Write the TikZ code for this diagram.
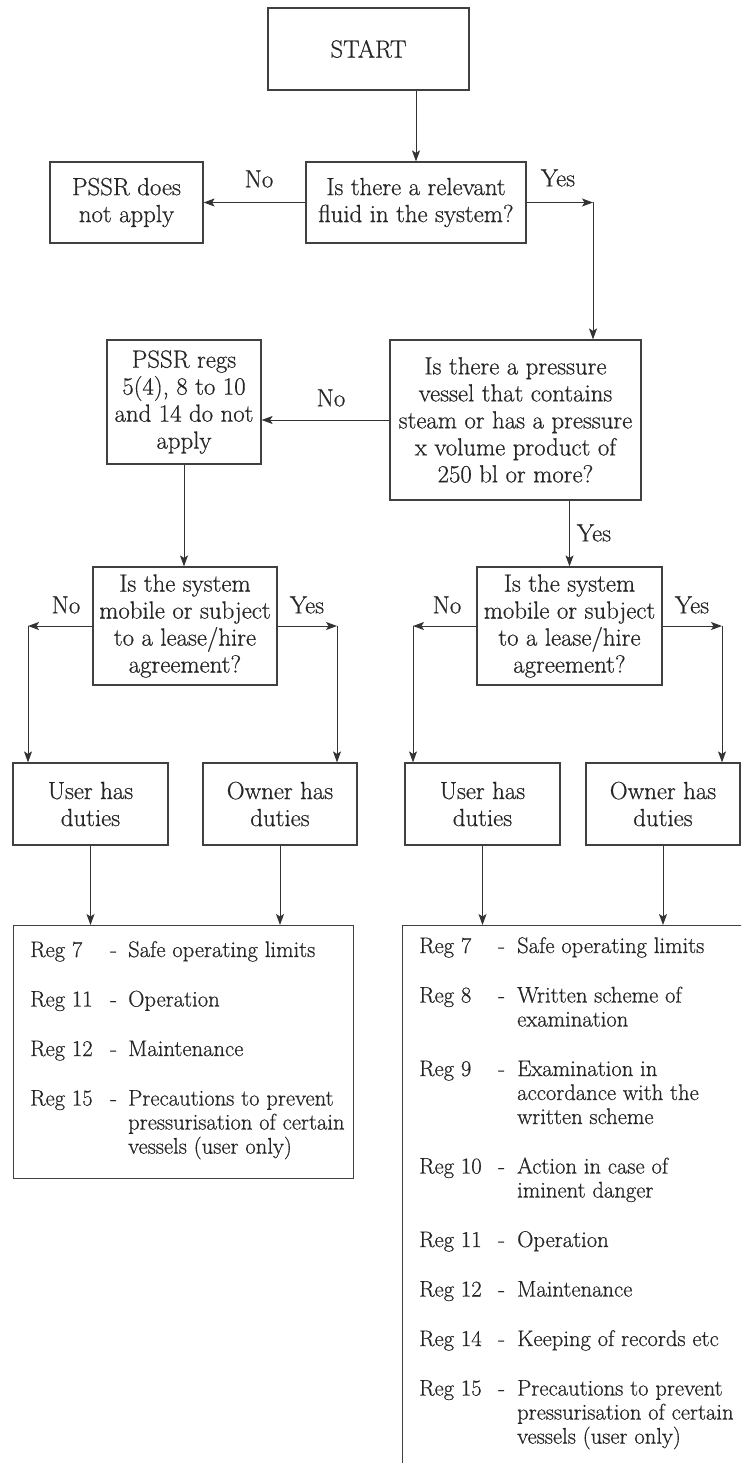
\documentclass[tikz,border=0pt]{standalone}
\usepackage{fontspec}
\setmainfont{Latin Modern Roman}[FakeBold=0.6]
\usetikzlibrary{arrows.meta}
\begin{document}
\begin{tikzpicture}[x=1pt,y=-1pt,
  qbox/.style={draw=black!75,line width=1.2pt,align=center,inner sep=2pt,
    font=\fontsize{24.8}{27}\selectfont,text=black!85},
  regbox/.style={draw=black!75,line width=1.2pt,anchor=north west,inner sep=0pt},
  arr/.style={draw=black!80,line width=1pt,-{Stealth[length=11pt,width=8pt,inset=2.5pt]}},
  yn/.style={font=\fontsize{24.8}{27}\selectfont,text=black!85},
  reglist/.style={anchor=base west,inner sep=0pt,font=\fontsize{22.6}{24}\selectfont,text=black!85}]
\useasboundingbox (0,0) rectangle (741,1463);
\clip (0,0) rectangle (741,1463);
\def\gap{25.5pt}

\node[qbox,minimum width=201pt,minimum height=82pt] (start) at (368.5,49) {START};
\node[qbox,minimum width=220pt,minimum height=81pt] (fluid) at (416,202.5) {Is there a relevant\\fluid in the system?};
\node[qbox,minimum width=153pt,minimum height=81pt] (notapply) at (126.5,202.5) {PSSR does\\not apply};
\node[qbox,minimum width=251pt,minimum height=160pt] (vessel) at (515.5,420) {Is there a pressure\\vessel that contains\\steam or has a pressure\\x volume product of\\250 bl or more?};
\node[qbox,minimum width=154pt,minimum height=124pt] (regs) at (184,402) {PSSR regs\\5(4), 8 to 10\\and 14 do not\\apply};
\node[qbox,minimum width=184pt,minimum height=118pt] (mobL) at (185,626) {Is the system\\mobile or subject\\to a lease/hire\\agreement?};
\node[qbox,minimum width=185pt,minimum height=118pt] (mobR) at (569.5,626) {Is the system\\mobile or subject\\to a lease/hire\\agreement?};
\node[qbox,minimum width=155pt,minimum height=82pt] (userL) at (90.5,804) {User has\\duties};
\node[qbox,minimum width=154pt,minimum height=82pt] (ownerL) at (280,804) {Owner has\\duties};
\node[qbox,minimum width=155pt,minimum height=82pt] (userR) at (482.5,804) {User has\\duties};
\node[qbox,minimum width=154pt,minimum height=82pt] (ownerR) at (663,804) {Owner has\\duties};

\node[regbox,minimum width=340pt,minimum height=253pt] (listL) at (13,925) {};
\node[regbox,minimum width=400pt,minimum height=600pt] (listR) at (402,925) {};

\node[reglist] (regsL) at (30,957) {\begin{tabular}[t]{@{}p{80pt}@{}p{18pt}@{}l@{}}
Reg 7 & - & Safe operating limits\\[\gap]
Reg 11 & - & Operation\\[\gap]
Reg 12 & - & Maintenance\\[\gap]
Reg 15 & - & Precautions to prevent\\
 & & pressurisation of certain\\
 & & vessels (user only)
\end{tabular}};
\node[reglist] (regsR) at (419,953) {\begin{tabular}[t]{@{}p{79pt}@{}p{19pt}@{}l@{}}
Reg 7 & - & Safe operating limits\\[\gap]
Reg 8 & - & Written scheme of\\
 & & examination\\[\gap]
Reg 9 & - & Examination in\\
 & & accordance with the\\
 & & written scheme\\[\gap]
Reg 10 & - & Action in case of\\
 & & iminent danger\\[\gap]
Reg 11 & - & Operation\\[\gap]
Reg 12 & - & Maintenance\\[\gap]
Reg 14 & - & Keeping of records etc\\[\gap]
Reg 15 & - & Precautions to prevent\\
 & & pressurisation of certain\\
 & & vessels (user only)
\end{tabular}};

\coordinate (kYes) at (593,202.5);
\coordinate (kLno) at (28,626);
\coordinate (kLyes) at (337,626);
\coordinate (kRno) at (413,626);
\coordinate (kRyes) at (722,626);

\draw[arr] (fluid.north |- start.south) -- (fluid.north);
\draw[arr] (fluid.west) -- (notapply.east);
\draw[arr] (fluid.east) -- (kYes);
\draw[arr] (kYes) -- (kYes |- vessel.north);
\draw[arr] (vessel.west) -- (vessel.west -| regs.east);
\draw[arr] (regs.south) -- (regs.south |- mobL.north);
\draw[arr] (mobR.north |- vessel.south) -- (mobR.north);

\draw[arr] (mobL.west) -- (kLno);
\draw[arr] (kLno) -- (kLno |- userL.north);
\draw[arr] (mobL.east) -- (kLyes);
\draw[arr] (kLyes) -- (kLyes |- ownerL.north);
\draw[arr] (mobR.west) -- (kRno);
\draw[arr] (kRno) -- (kRno |- userR.north);
\draw[arr] (mobR.east) -- (kRyes);
\draw[arr] (kRyes) -- (kRyes |- ownerR.north);

\draw[arr] (userL.south) -- (userL.south |- listL.north);
\draw[arr] (ownerL.south) -- (ownerL.south |- listL.north);
\draw[arr] (userR.south) -- (userR.south |- listR.north);
\draw[arr] (ownerR.south) -- (ownerR.south |- listR.north);

\node[yn] (no1) at (259,179) {No};
\node[yn] (yes1) at (558,178) {Yes};
\node[yn] (no2) at (331,398) {No};
\node[yn] (yes2) at (594,533) {Yes};
\node[yn] (no3) at (66,605) {No};
\node[yn] (yes3) at (307,605) {Yes};
\node[yn] (no4) at (447,605) {No};
\node[yn] (yes4) at (692,605) {Yes};
\end{tikzpicture}
\end{document}
